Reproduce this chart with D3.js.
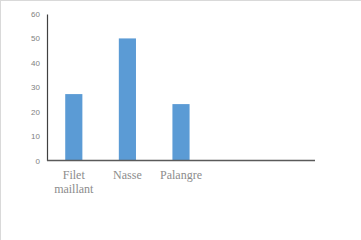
<!DOCTYPE html>
<html>
<head>
<meta charset="utf-8">
<script src="https://cdn.jsdelivr.net/npm/d3@7"></script>
<style>
  body { margin: 0; background: #fff; }
  svg { display: block; }
</style>
</head>
<body>
<svg id="chart" width="361" height="240"></svg>
<script>
// categories (last two slots are empty in the original)
var categories = ["Filet maillant", "Nasse", "Palangre", "", " "];
var values = [27.2, 50, 23.1, null, null];
var yTicks = [0, 10, 20, 30, 40, 50, 60];

var svg = d3.select("#chart"),
    width = +svg.attr("width"),
    height = +svg.attr("height");

var margin = {left: 47, right: 46, top: 14, bottom: 79.5};

// light frame on top / left
svg.append("line").attr("x1", 0).attr("x2", width).attr("y1", 0.5).attr("y2", 0.5)
  .attr("stroke", "#d9d9d9");
svg.append("line").attr("x1", 0.5).attr("x2", 0.5).attr("y1", 0).attr("y2", height)
  .attr("stroke", "#d9d9d9");

var x = d3.scaleBand()
    .domain(categories.map(function(d, i) { return i; }))
    .range([margin.left, width - margin.right])
    .paddingInner(0.68)
    .paddingOuter(0.34);

var y = d3.scaleLinear()
    .domain([0, 60])
    .range([height - margin.bottom, margin.top]);

// bars
svg.append("g")
  .selectAll("rect")
  .data(values.map(function(v, i) { return {i: i, v: v}; }).filter(function(d) { return d.v != null; }))
  .enter().append("rect")
    .attr("x", function(d) { return x(d.i); })
    .attr("width", x.bandwidth())
    .attr("y", function(d) { return y(d.v); })
    .attr("height", function(d) { return y(0) - y(d.v); })
    .attr("fill", "#5b9bd5");

// y axis
var yAxis = svg.append("g")
  .attr("transform", "translate(" + margin.left + ",0)")
  .call(d3.axisLeft(y).tickValues(yTicks).tickSize(0).tickPadding(7));
yAxis.select(".domain").attr("stroke", "#404040").attr("stroke-width", 1.2);
yAxis.selectAll("text")
  .attr("fill", "#7f7f7f")
  .style("font-family", "'Liberation Sans', Arial, sans-serif")
  .style("font-size", "8px");

// x axis line
svg.append("line")
  .attr("x1", margin.left).attr("x2", width - margin.right)
  .attr("y1", y(0)).attr("y2", y(0))
  .attr("stroke", "#5a5a5a").attr("stroke-width", 1.6);

// category labels (serif, wrapped)
var lab = svg.append("g")
  .selectAll("text")
  .data(categories.map(function(c, i) { return {i: i, c: c}; }).filter(function(d) { return d.c.trim() != ""; }))
  .enter().append("text")
    .attr("x", function(d) { return x(d.i) + x.bandwidth() / 2; })
    .attr("y", y(0) + 18)
    .attr("text-anchor", "middle")
    .attr("fill", "#8c8c8c")
    .style("font-family", "'Liberation Serif', 'Times New Roman', serif")
    .style("font-size", "12px");

lab.each(function(d) {
  var words = d.c.split(" ");
  var t = d3.select(this);
  words.forEach(function(w, k) {
    t.append("tspan")
      .attr("x", x(d.i) + x.bandwidth() / 2)
      .attr("dy", k == 0 ? 0 : 14)
      .text(w);
  });
});
</script>
</body>
</html>
